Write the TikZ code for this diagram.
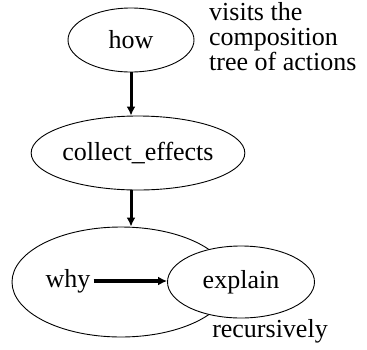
\documentclass[tikz,border=0pt]{standalone}
\usepackage{fontspec}
\setmainfont{Liberation Serif}
\newfontfamily\labelfont{Liberation Serif}
\usetikzlibrary{shapes.geometric,arrows.meta}
\begin{document}
\begin{tikzpicture}[x=1pt,y=-1pt,
  oval/.style={ellipse,draw,line width=0.9pt,inner sep=0pt},
  lbl/.style={font=\labelfont\fontsize{26}{25}\selectfont,inner sep=0pt},
  flow/.style={line width=3pt,-{Latex[length=9pt,width=9pt]}}]
  \useasboundingbox (0,0) rectangle (367,349);
  % operation nodes
  \node[oval,minimum width=126pt,minimum height=64pt,lbl] (how) at (131,40) {how};
  \node[oval,minimum width=212pt,minimum height=74pt,lbl] (collect) at (138,153) {collect\_effects};
  \node[oval,minimum width=218pt,minimum height=110pt] (whyov) at (121,282) {};
  \node[lbl,anchor=center] (why) at (68,281) {why};
  \node[oval,fill=white,minimum width=147pt,minimum height=72pt,lbl] (explain) at (241,282) {explain};
  % connectors
  \draw[flow] (how.south) -- (how.south |- collect.north);
  \draw[flow] (collect.south -| how.south) -- (how.south |- whyov.north);
  \draw[flow,line width=3.6pt] (why.east) ++(3pt,0) coordinate (ws) (ws) -- (explain.west |- ws);
  % annotations
  \node[lbl,align=left,anchor=north west] (note) at (209,2) {visits the\\composition\\tree of actions};
  \node[lbl] (rec) at (270,331) {recursively};
\end{tikzpicture}
\end{document}
